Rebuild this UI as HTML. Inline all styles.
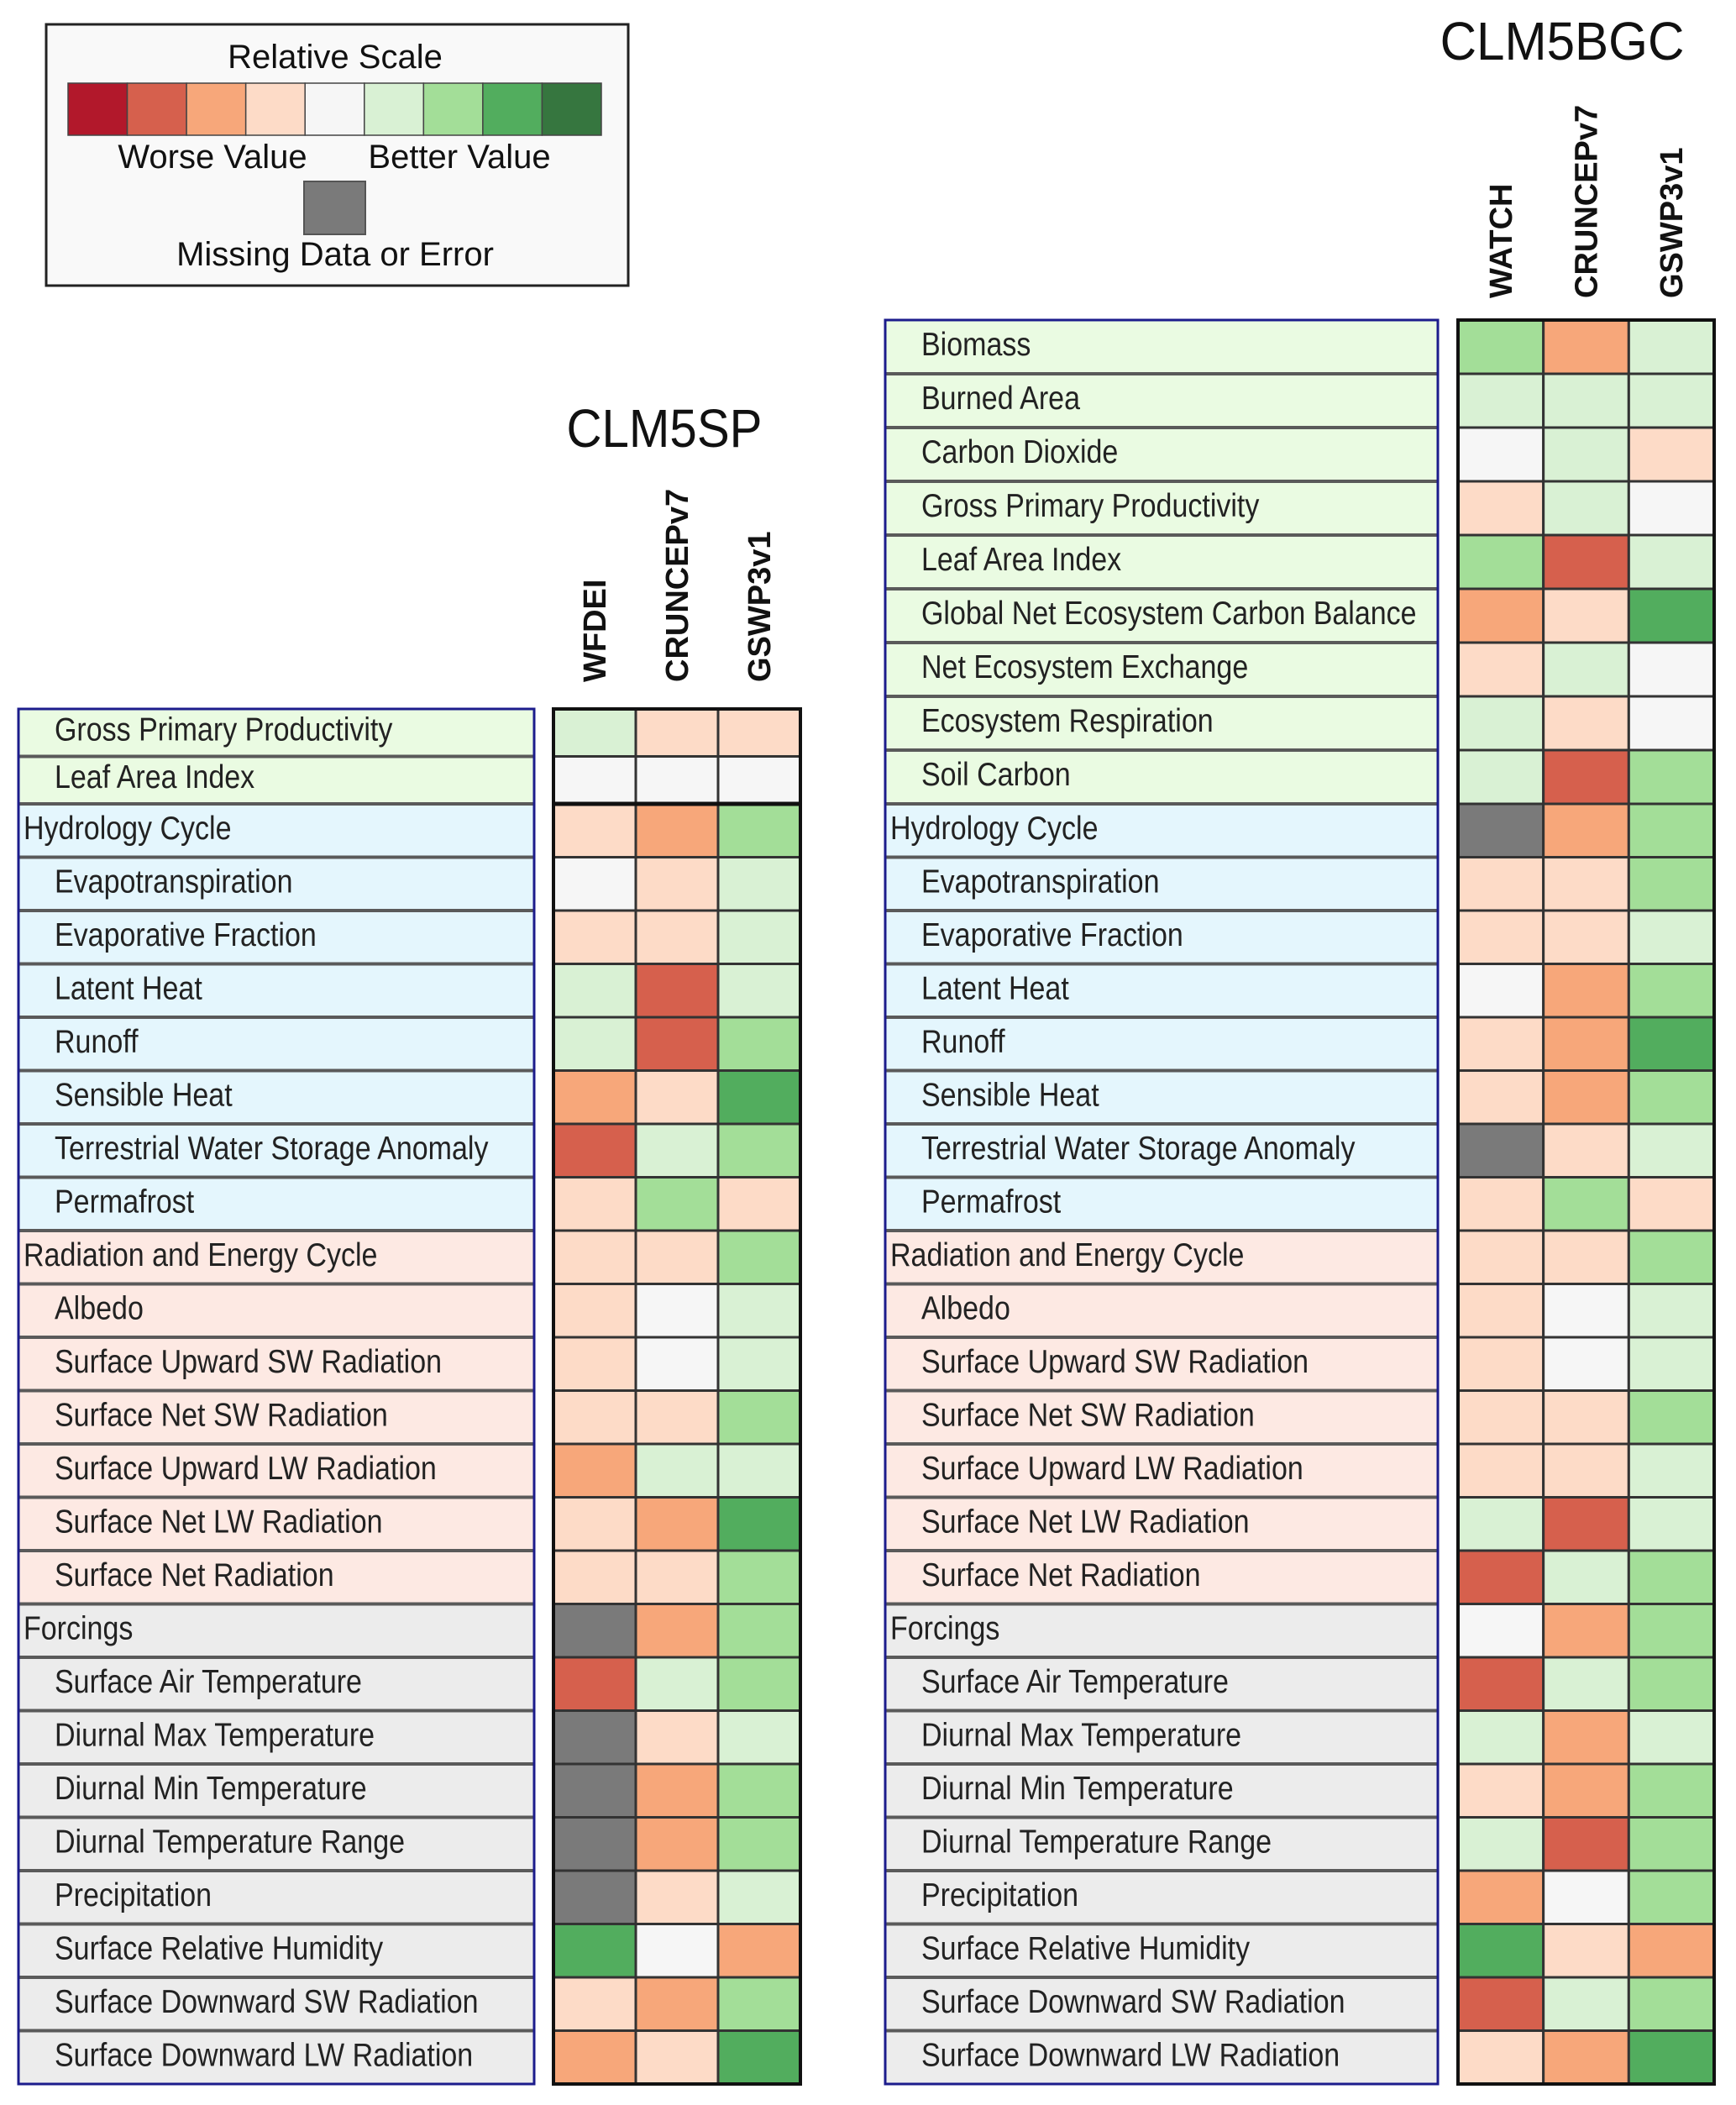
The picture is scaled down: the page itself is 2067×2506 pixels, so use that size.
<!DOCTYPE html>
<html><head><meta charset="utf-8">
<style>
html,body{margin:0;padding:0;background:#fff;}
svg{display:block;}
text{font-family:"Liberation Sans",sans-serif;}
</style></head>
<body>
<svg id="chart" width="2067" height="2506" viewBox="0 0 2067 2506" xmlns="http://www.w3.org/2000/svg">
<g id="legend">
  <rect x="55" y="29" width="693" height="311" fill="#f9f9f9" stroke="#222" stroke-width="3"/>
  <text x="399" y="81" font-size="40" text-anchor="middle" fill="#111">Relative Scale</text>
  <g id="legend-swatches"></g>
  <text x="253" y="200" font-size="40" text-anchor="middle" fill="#111">Worse Value</text>
  <text x="547" y="200" font-size="40" text-anchor="middle" fill="#111">Better Value</text>
  <rect x="362" y="216" width="73" height="63" fill="#7a7a7a" stroke="#555" stroke-width="2"/>
  <text x="399" y="316" font-size="40" text-anchor="middle" fill="#111">Missing Data or Error</text>
</g>
<text x="0" y="0" font-size="64" text-anchor="middle" fill="#111" transform="translate(791,532) scale(0.91,1)">CLM5SP</text>
<text x="0" y="0" font-size="64" text-anchor="middle" fill="#111" transform="translate(1860,71) scale(0.94,1)">CLM5BGC</text>
<g id="panels"></g>
</svg>
<script>
const scaleColors = ["#b2182b","#d6604d","#f7a77a","#fddbc7","#f6f6f6","#d9f1d4","#a3de98","#52ad5e","#36763f"];
const missingColor = "#7a7a7a";

const spModels = ["WFDEI","CRUNCEPv7","GSWP3v1"];
const bgcModels = ["WATCH","CRUNCEPv7","GSWP3v1"];

const spLabels = ["Gross Primary Productivity","Leaf Area Index","Hydrology Cycle","Evapotranspiration","Evaporative Fraction","Latent Heat","Runoff","Sensible Heat","Terrestrial Water Storage Anomaly","Permafrost","Radiation and Energy Cycle","Albedo","Surface Upward SW Radiation","Surface Net SW Radiation","Surface Upward LW Radiation","Surface Net LW Radiation","Surface Net Radiation","Forcings","Surface Air Temperature","Diurnal Max Temperature","Diurnal Min Temperature","Diurnal Temperature Range","Precipitation","Surface Relative Humidity","Surface Downward SW Radiation","Surface Downward LW Radiation"];
const spGroups = ["L","L","H","H","H","H","H","H","H","H","R","R","R","R","R","R","R","F","F","F","F","F","F","F","F","F"];
const spHeaders = [0,0,1,0,0,0,0,0,0,0,1,0,0,0,0,0,0,1,0,0,0,0,0,0,0,0];
const spScores = [
 [5,3,3],[4,4,4],[3,2,6],[4,3,5],[3,3,5],[5,1,5],[5,1,6],[2,3,7],[1,5,6],[3,6,3],
 [3,3,6],[3,4,5],[3,4,5],[3,3,6],[2,5,5],[3,2,7],[3,3,6],
 ["M",2,6],[1,5,6],["M",3,5],["M",2,6],["M",2,6],["M",3,5],[7,4,2],[3,2,6],[2,3,7]
];

const bgcLabels = ["Biomass","Burned Area","Carbon Dioxide","Gross Primary Productivity","Leaf Area Index","Global Net Ecosystem Carbon Balance","Net Ecosystem Exchange","Ecosystem Respiration","Soil Carbon","Hydrology Cycle","Evapotranspiration","Evaporative Fraction","Latent Heat","Runoff","Sensible Heat","Terrestrial Water Storage Anomaly","Permafrost","Radiation and Energy Cycle","Albedo","Surface Upward SW Radiation","Surface Net SW Radiation","Surface Upward LW Radiation","Surface Net LW Radiation","Surface Net Radiation","Forcings","Surface Air Temperature","Diurnal Max Temperature","Diurnal Min Temperature","Diurnal Temperature Range","Precipitation","Surface Relative Humidity","Surface Downward SW Radiation","Surface Downward LW Radiation"];
const bgcGroups = ["L","L","L","L","L","L","L","L","L","H","H","H","H","H","H","H","H","R","R","R","R","R","R","R","F","F","F","F","F","F","F","F","F"];
const bgcHeaders = [0,0,0,0,0,0,0,0,0,1,0,0,0,0,0,0,0,1,0,0,0,0,0,0,1,0,0,0,0,0,0,0,0];
const bgcScores = [
 [6,2,5],[5,5,5],[4,5,3],[3,5,4],[6,1,5],[2,3,7],[3,5,4],[5,3,4],[5,1,6],
 ["M",2,6],[3,3,6],[3,3,5],[4,2,6],[3,2,7],[3,2,6],["M",3,5],[3,6,3],
 [3,3,6],[3,4,5],[3,4,5],[3,3,6],[3,3,5],[5,1,5],[1,5,6],
 [4,2,6],[1,5,6],[5,2,5],[3,2,6],[5,1,6],[2,4,6],[7,3,2],[1,5,6],[3,2,7]
];

const groupFill = {L:"#eafbe2",H:"#e4f6fd",R:"#fde9e3",F:"#ececec"};
const NS = "http://www.w3.org/2000/svg";
function mk(tag, attrs, parent){const e=document.createElementNS(NS,tag);for(const k in attrs)e.setAttribute(k,attrs[k]);parent.appendChild(e);return e;}
function colorOf(v){return v==="M"?missingColor:scaleColors[v];}

const sw = document.getElementById("legend-swatches");
scaleColors.forEach((c,i)=>{
  const w=(716-81)/scaleColors.length;
  const r=mk("rect",{x:81+i*w,y:99,width:w,height:62,fill:c,stroke:"#444","stroke-width":1.5},sw);
  
  
});

function rowEdges(nTop, topY, topH, restY, restEnd, nRest){
  const e=[];
  for(let i=0;i<nTop;i++) e.push([topY+i*topH, topH]);
  const h=(restEnd-restY)/nRest;
  for(let i=0;i<nRest;i++) e.push([restY+i*h, h]);
  return e;
}

const SX=0.872;
function drawPanel(id, labels, groups, headers, scores, models, rows, tbl, hm, colLabelBottom){
  const g=mk("g",{id:id},document.getElementById("panels"));
  
  
  const cw=(hm.x1-hm.x0)/models.length;
  models.forEach((m,j)=>{
    const cx=hm.x0+cw*(j+0.5)+13;
    const t=mk("text",{x:0,y:0,"font-size":38,"font-weight":"bold",fill:"#111",transform:`translate(${cx},${colLabelBottom}) rotate(-90)`},g);
    t.textContent=m;
    
    
  });
  const top=rows[0][0], bot=rows[rows.length-1][0]+rows[rows.length-1][1];
  labels.forEach((lab,i)=>{
    const [y,h]=rows[i];
    const r=mk("rect",{x:tbl.x0,y:y,width:tbl.x1-tbl.x0,height:h,fill:groupFill[groups[i]]},g);
    
    
    if(i>0){const ln=mk("line",{x1:tbl.x0,x2:tbl.x1,y1:y,y2:y,stroke:"#5a5a5a","stroke-width":4},g);
      
      }
    const tx=headers[i]?tbl.x0+6:tbl.x0+43;
    const t=mk("text",{x:tx/SX,y:y+h*0.66,"font-size":39,fill:"#222",transform:"scale("+SX+",1)"},g);
    t.textContent=lab;
    
    
    scores[i].forEach((v,j)=>{
      const c=mk("rect",{x:hm.x0+j*cw,y:y,width:cw,height:h,fill:colorOf(v),stroke:"#333","stroke-width":3},g);
      
      
    });
  });
  const ob=mk("rect",{x:tbl.x0,y:top,width:tbl.x1-tbl.x0,height:bot-top,fill:"none",stroke:"#1c1c8c","stroke-width":3},g);
  
  
  const hb=mk("rect",{x:hm.x0,y:top,width:hm.x1-hm.x0,height:bot-top,fill:"none",stroke:"#111","stroke-width":4},g);
  
  
}

drawPanel("clm5sp", spLabels, spGroups, spHeaders, spScores, spModels,
  rowEdges(2,844,56.5,957,2481,24), {x0:22,x1:636}, {x0:659,x1:953}, 812);
(function(){const l=mk("line",{x1:659,x2:953,y1:957,y2:957,stroke:"#111","stroke-width":5},document.getElementById("panels"));
 
 })();
drawPanel("clm5bgc", bgcLabels, bgcGroups, bgcHeaders, bgcScores, bgcModels,
  rowEdges(9,381,64,957,2481,24), {x0:1054,x1:1712}, {x0:1736,x1:2041}, 355);
</script>
</body></html>
